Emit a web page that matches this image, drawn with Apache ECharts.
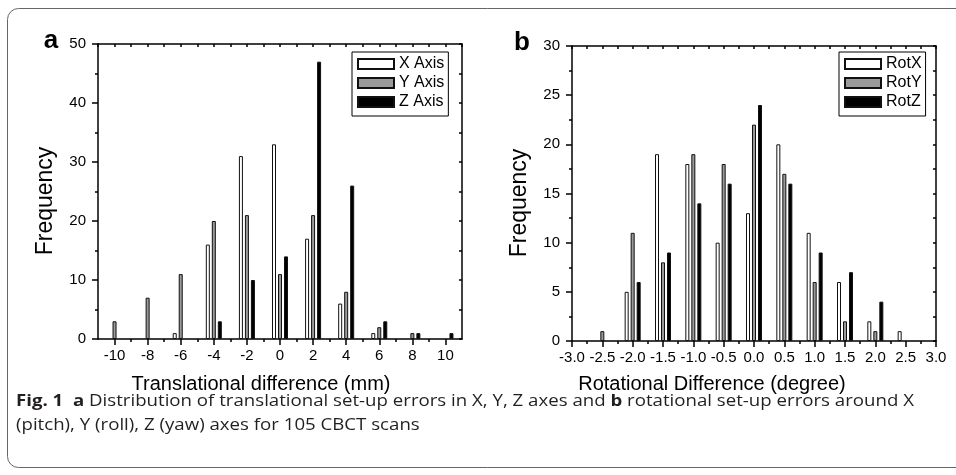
<!DOCTYPE html>
<html>
<head>
<meta charset="utf-8">
<script src="https://cdn.jsdelivr.net/npm/echarts@6/dist/echarts.min.js"></script>
<style>
  html, body { margin: 0; padding: 0; background: #fff; }
  #container { width: 956px; height: 475px; }
</style>
</head>
<body>
<div id="container"></div>
<script>
// panel a: translational errors (mm)
const transBins = [-10, -8, -6, -4, -2, 0, 2, 4, 6, 8, 10];
const transX = [0, 0, 1, 16, 31, 33, 17, 6, 1, 0, 0];
const transY = [3, 7, 11, 20, 21, 11, 21, 8, 2, 1, 0];
const transZ = [0, 0, 0, 3, 10, 14, 47, 26, 3, 1, 1];
const transTicks = [-10, -8, -6, -4, -2, 0, 2, 4, 6, 8, 10];
const transMinorTicks = [-9, -7, -5, -3, -1, 1, 3, 5, 7, 9];

// panel b: rotational errors (degree)
const rotBins = [-2.5, -2, -1.5, -1, -0.5, 0, 0.5, 1, 1.5, 2, 2.5];
const rotX = [0, 5, 19, 18, 10, 13, 20, 11, 6, 2, 1];
const rotY = [1, 11, 8, 19, 18, 22, 17, 6, 2, 1, 0];
const rotZ = [0, 6, 9, 14, 16, 24, 16, 9, 7, 4, 0];

const seriesNamesA = ['X Axis', 'Y Axis', 'Z Axis'];
const seriesNamesB = ['RotX', 'RotY', 'RotZ'];

const FONT = 'Liberation Sans, Arial, sans-serif';
const fills = ['#ffffff', '#9a9a9a', '#000000'];

const chart = echarts.init(document.getElementById('container'), null, { renderer: 'canvas' });

// zero counts are left empty so no flat bar is drawn on the axis
function pairs(bins, vals) {
    return bins.map((b, i) => [b, vals[i] === 0 ? '-' : vals[i]]);
}

function barSeries(name, i, bins, vals, xIdx, yIdx) {
    return {
        name: name,
        type: 'bar',
        xAxisIndex: xIdx,
        yAxisIndex: yIdx,
        barWidth: 4,
        barGap: '50%',
        itemStyle: { color: fills[i], borderColor: '#111', borderWidth: 1 },
        emphasis: { disabled: true },
        data: pairs(bins, vals)
    };
}

const axisLine = { show: true, onZero: false, lineStyle: { color: '#000', width: 1.5 } };
const tickStyle = { color: '#000', width: 1.5 };
const labelStyle = { color: '#000', fontSize: 15, fontFamily: FONT };

const option = {
    animation: false,
    backgroundColor: '#fff',
    grid: [
        { left: 98, top: 44, width: 364, height: 295, outerBoundsMode: 'none' },
        { left: 572, top: 46, width: 364, height: 295, outerBoundsMode: 'none' }
    ],
    legend: [
        {
            data: seriesNamesA, left: 352, top: 52, orient: 'vertical',
            icon: 'rect', itemWidth: 36, itemHeight: 10, itemGap: 3,
            padding: [4, 4, 6, 5], borderColor: '#000', borderWidth: 1,
            textStyle: { fontSize: 16, fontFamily: FONT, color: '#000' },
            selectedMode: false
        },
        {
            data: seriesNamesB, left: 839, top: 52, orient: 'vertical',
            icon: 'rect', itemWidth: 36, itemHeight: 10, itemGap: 3,
            padding: [4, 4, 6, 5], borderColor: '#000', borderWidth: 1,
            textStyle: { fontSize: 16, fontFamily: FONT, color: '#000' },
            selectedMode: false
        }
    ],
    xAxis: [
        // a: bottom, major ticks + labels
        {
            type: 'value', gridIndex: 0, position: 'bottom', min: -11, max: 11, interval: 1,
            axisLine: axisLine,
            axisTick: { show: true, customValues: transTicks, length: 6, lineStyle: tickStyle },
            axisLabel: { customValues: transTicks, margin: 9, ...labelStyle },
            splitLine: { show: false }
        },
        // a: bottom, minor ticks
        {
            type: 'value', gridIndex: 0, position: 'bottom', min: -11, max: 11, interval: 1,
            axisLine: { show: false },
            axisTick: { show: true, customValues: transMinorTicks, length: 3, lineStyle: tickStyle },
            axisLabel: { show: false },
            splitLine: { show: false }
        },
        // a: top frame
        {
            type: 'value', gridIndex: 0, position: 'top', min: -11, max: 11, interval: 1,
            axisLine: axisLine,
            axisTick: { show: true, inside: true, length: 3, lineStyle: tickStyle },
            axisLabel: { show: false },
            splitLine: { show: false }
        },
        // b: bottom
        {
            type: 'value', gridIndex: 1, position: 'bottom', min: -3, max: 3, interval: 0.5,
            axisLine: axisLine,
            axisTick: { show: true, length: 6, lineStyle: tickStyle },
            minorTick: { show: true, splitNumber: 2, length: 3, lineStyle: tickStyle },
            axisLabel: { margin: 9, formatter: v => v.toFixed(1), ...labelStyle },
            splitLine: { show: false }
        },
        // b: top frame
        {
            type: 'value', gridIndex: 1, position: 'top', min: -3, max: 3, interval: 0.25,
            axisLine: axisLine,
            axisTick: { show: true, inside: true, length: 3, lineStyle: tickStyle },
            axisLabel: { show: false },
            splitLine: { show: false }
        }
    ],
    yAxis: [
        {
            type: 'value', gridIndex: 0, position: 'left', min: 0, max: 50, interval: 10,
            axisLine: axisLine,
            axisTick: { show: true, length: 6, lineStyle: tickStyle },
            minorTick: { show: true, splitNumber: 2, length: 3, lineStyle: tickStyle },
            axisLabel: { margin: 12, ...labelStyle },
            splitLine: { show: false }
        },
        {
            type: 'value', gridIndex: 0, position: 'right', min: 0, max: 50, interval: 5,
            axisLine: axisLine,
            axisTick: { show: true, inside: true, length: 3, lineStyle: tickStyle },
            axisLabel: { show: false },
            splitLine: { show: false }
        },
        {
            type: 'value', gridIndex: 1, position: 'left', min: 0, max: 30, interval: 5,
            axisLine: axisLine,
            axisTick: { show: true, length: 6, lineStyle: tickStyle },
            minorTick: { show: true, splitNumber: 2, length: 3, lineStyle: tickStyle },
            axisLabel: { margin: 12, ...labelStyle },
            splitLine: { show: false }
        },
        {
            type: 'value', gridIndex: 1, position: 'right', min: 0, max: 30, interval: 2.5,
            axisLine: axisLine,
            axisTick: { show: true, inside: true, length: 3, lineStyle: tickStyle },
            axisLabel: { show: false },
            splitLine: { show: false }
        }
    ],
    series: [
        barSeries(seriesNamesA[0], 0, transBins, transX, 0, 0),
        barSeries(seriesNamesA[1], 1, transBins, transY, 0, 0),
        barSeries(seriesNamesA[2], 2, transBins, transZ, 0, 0),
        barSeries(seriesNamesB[0], 0, rotBins, rotX, 3, 2),
        barSeries(seriesNamesB[1], 1, rotBins, rotY, 3, 2),
        barSeries(seriesNamesB[2], 2, rotBins, rotZ, 3, 2)
    ],
    graphic: [
        {
            type: 'rect', silent: true,
            shape: { x: 7.5, y: 8.5, width: 980, height: 459, r: 11 },
            style: { fill: 'none', stroke: '#666', lineWidth: 1 }
        },
        { type: 'text', x: 51, y: 41, style: { text: 'a', font: 'bold 26px ' + FONT, fill: '#000', textAlign: 'center', textVerticalAlign: 'middle' } },
        { type: 'text', x: 522, y: 43, style: { text: 'b', font: 'bold 26px ' + FONT, fill: '#000', textAlign: 'center', textVerticalAlign: 'middle' } },
        { type: 'text', x: 46, y: 201, rotation: Math.PI / 2, style: { text: 'Frequency', font: '23px ' + FONT, fill: '#000', textAlign: 'center', textVerticalAlign: 'middle' } },
        { type: 'text', x: 520, y: 203, rotation: Math.PI / 2, style: { text: 'Frequency', font: '23px ' + FONT, fill: '#000', textAlign: 'center', textVerticalAlign: 'middle' } },
        { type: 'text', x: 261, y: 384, style: { text: 'Translational difference (mm)', font: '20px ' + FONT, fill: '#000', textAlign: 'center', textVerticalAlign: 'middle' } },
        { type: 'text', x: 712, y: 384, style: { text: 'Rotational Difference (degree)', font: '20px ' + FONT, fill: '#000', textAlign: 'center', textVerticalAlign: 'middle' } },
        {
            type: 'text', x: 16, y: 401, scaleX: 1.13,
            style: {
                text: '{b|Fig. 1}  {b|a} Distribution of translational set-up errors in X, Y, Z axes and {b|b} rotational set-up errors around X',
                font: '16.5px Open Sans', fill: '#231f20', textVerticalAlign: 'middle',
                rich: { b: { fontWeight: 'bold', fontFamily: 'Open Sans', fontSize: 16.5, fill: '#231f20' } }
            }
        },
        { type: 'text', x: 16, y: 425, scaleX: 1.13, style: { text: '(pitch), Y (roll), Z (yaw) axes for 105 CBCT scans', font: '16.5px Open Sans', fill: '#231f20', textVerticalAlign: 'middle' } }
    ]
};

chart.setOption(option);
window.addEventListener('resize', () => chart.resize());
</script>
</body>
</html>
